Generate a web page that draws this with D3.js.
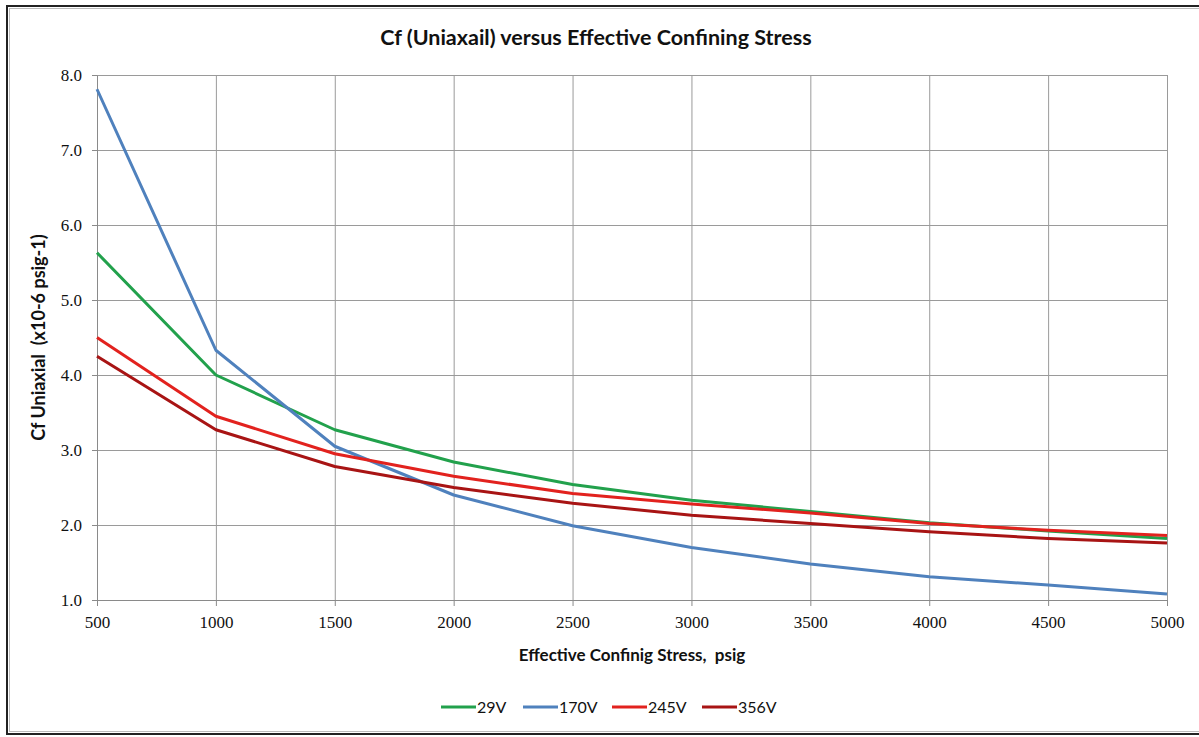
<!DOCTYPE html>
<html>
<head>
<meta charset="utf-8">
<script src="https://cdn.jsdelivr.net/npm/d3@7.9.0/dist/d3.min.js"></script>
<style>
  html, body { margin: 0; padding: 0; background: #fff; }
  svg { display: block; }
</style>
</head>
<body>
<div id="chart"></div>
<script>
// stress values (psig) on the x axis
const stress = [500, 1000, 1500, 2000, 2500, 3000, 3500, 4000, 4500, 5000];

// Cf uniaxial (x10-6 psig-1) per sample
const cf29V  = [5.63, 4.00, 3.27, 2.84, 2.54, 2.33, 2.18, 2.03, 1.92, 1.82];
const cf170V = [7.81, 4.33, 3.05, 2.40, 1.99, 1.70, 1.48, 1.31, 1.20, 1.08];
const cf245V = [4.50, 3.45, 2.95, 2.65, 2.42, 2.28, 2.16, 2.02, 1.93, 1.86];
const cf356V = [4.25, 3.27, 2.78, 2.50, 2.29, 2.13, 2.02, 1.91, 1.82, 1.76];

const seriesNames = ['29V', '170V', '245V', '356V'];
const xTicks = [500, 1000, 1500, 2000, 2500, 3000, 3500, 4000, 4500, 5000];
const yTicks = [1, 2, 3, 4, 5, 6, 7, 8];

const series = [
  { name: seriesNames[0], values: cf29V,  color: '#22a14c' },
  { name: seriesNames[1], values: cf170V, color: '#4f81bd' },
  { name: seriesNames[2], values: cf245V, color: '#e2221e' },
  { name: seriesNames[3], values: cf356V, color: '#a81414' },
];

const width = 1199;
const height = 737;
const plot = { left: 97, right: 1167, top: 75, bottom: 600 };

const svg = d3.select('#chart')
  .append('svg')
  .attr('width', width)
  .attr('height', height);

// outer frame (right edge runs off the picture)
svg.append('rect')
  .attr('x', 7).attr('y', 6)
  .attr('width', 1210).attr('height', 728)
  .attr('fill', 'none')
  .attr('stroke', '#222')
  .attr('stroke-width', 2);
svg.append('rect')
  .attr('x', 9.5).attr('y', 8.5)
  .attr('width', 1210).attr('height', 723)
  .attr('fill', 'none')
  .attr('stroke', '#bbb')
  .attr('stroke-width', 1);

const xScale = d3.scaleLinear()
  .domain([500, 5000])
  .range([plot.left, plot.right]);

const yScale = d3.scaleLinear()
  .domain([1, 8])
  .range([plot.bottom, plot.top]);

// horizontal gridlines
svg.append('g')
  .attr('class', 'gridlines')
  .attr('transform', `translate(${plot.left}, 0)`)
  .call(d3.axisLeft(yScale).tickValues(yTicks).tickFormat('')
    .tickSize(-(plot.right - plot.left)).tickSizeOuter(0))
  .call(g => g.select('.domain').remove())
  .call(g => g.selectAll('line').attr('stroke', '#9a9a9a'));

// vertical gridlines
svg.append('g')
  .attr('class', 'gridlines')
  .attr('transform', `translate(0, ${plot.bottom})`)
  .call(d3.axisBottom(xScale).tickValues(xTicks).tickFormat('')
    .tickSize(-(plot.bottom - plot.top)).tickSizeOuter(0))
  .call(g => g.select('.domain').remove())
  .call(g => g.selectAll('line').attr('stroke', '#9a9a9a'));

// X axis
svg.append('g')
  .attr('transform', `translate(0, ${plot.bottom})`)
  .call(d3.axisBottom(xScale).tickValues(xTicks).tickFormat(d3.format('d'))
    .tickSize(6).tickSizeOuter(0).tickPadding(10))
  .call(g => g.select('.domain').attr('stroke', '#8a8a8a'))
  .call(g => g.selectAll('line').attr('stroke', '#8a8a8a'))
  .call(g => g.selectAll('text')
    .attr('font-family', '"Liberation Serif", serif')
    .attr('font-size', 17)
    .attr('fill', '#111'));

// Y axis
svg.append('g')
  .attr('transform', `translate(${plot.left}, 0)`)
  .call(d3.axisLeft(yScale).tickValues(yTicks).tickFormat(d3.format('.1f'))
    .tickSize(5).tickSizeOuter(0).tickPadding(10))
  .call(g => g.select('.domain').attr('stroke', '#8a8a8a'))
  .call(g => g.selectAll('line').attr('stroke', '#8a8a8a'))
  .call(g => g.selectAll('text')
    .attr('font-family', '"Liberation Serif", serif')
    .attr('font-size', 17)
    .attr('fill', '#111'));

// lines
const line = d3.line()
  .x((d, i) => xScale(stress[i]))
  .y(d => yScale(d));

svg.append('g')
  .selectAll('path')
  .data(series)
  .join('path')
  .attr('d', d => line(d.values))
  .attr('fill', 'none')
  .attr('stroke', d => d.color)
  .attr('stroke-width', 3)
  .attr('stroke-linejoin', 'round');

// titles
svg.append('text')
  .attr('x', 596).attr('y', 45)
  .attr('text-anchor', 'middle')
  .attr('font-family', 'Lato, sans-serif')
  .attr('font-weight', 'bold')
  .attr('font-size', 21.5)
  .attr('fill', '#111')
  .text('Cf (Uniaxail) versus Effective Confining  Stress');

svg.append('text')
  .attr('x', (plot.left + plot.right) / 2).attr('y', 661)
  .attr('text-anchor', 'middle')
  .attr('font-family', 'Lato, sans-serif')
  .attr('font-weight', 'bold')
  .attr('font-size', 17)
  .attr('fill', '#111')
  .attr('xml:space', 'preserve')
  .text('Effective Confinig Stress,  psig');

svg.append('text')
  .attr('transform', `translate(45, ${(plot.top + plot.bottom) / 2}) rotate(-90)`)
  .attr('text-anchor', 'middle')
  .attr('font-family', 'Lato, sans-serif')
  .attr('font-weight', 'bold')
  .attr('font-size', 18)
  .attr('fill', '#111')
  .attr('xml:space', 'preserve')
  .text('Cf Uniaxial  (x10-6 psig-1)');

// legend
const legendX = [441, 523, 612, 702];
const legend = svg.append('g')
  .selectAll('g')
  .data(series)
  .join('g')
  .attr('transform', (d, i) => `translate(${legendX[i]}, 707)`);

legend.append('line')
  .attr('x1', 0).attr('x2', 35)
  .attr('stroke', d => d.color)
  .attr('stroke-width', 3);

legend.append('text')
  .attr('x', 36).attr('y', 6)
  .attr('font-family', 'Lato, sans-serif')
  .attr('font-size', 16)
  .attr('fill', '#111')
  .text(d => d.name);
</script>
</body>
</html>
